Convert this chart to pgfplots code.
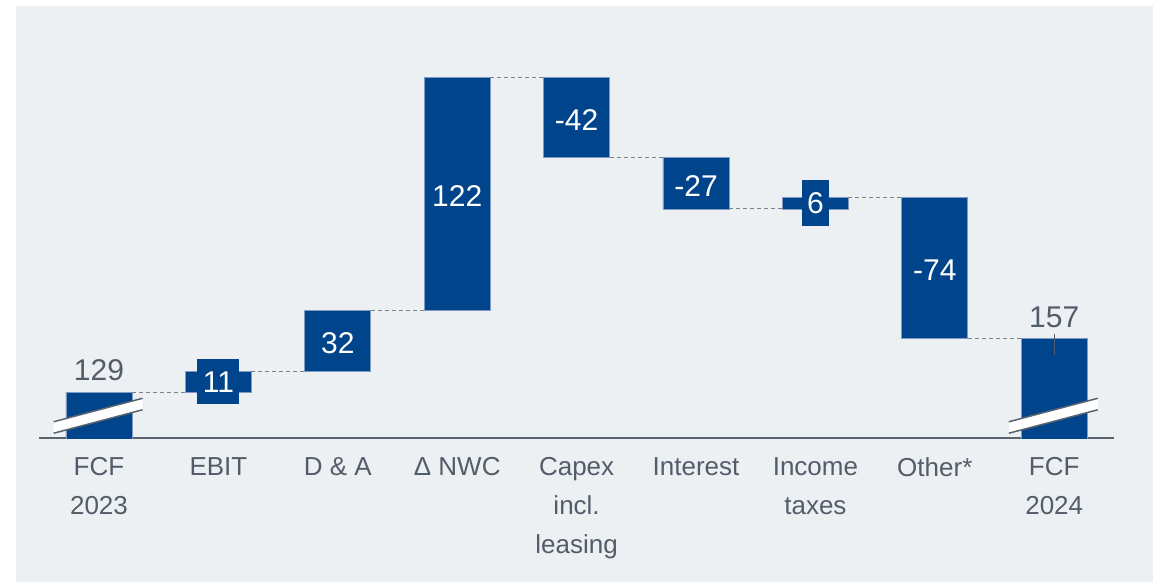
\documentclass[border=0pt]{standalone}
\usepackage{fontspec}
\setmainfont{Liberation Sans}
\usepackage{pgfplots}
\usepackage{pgfplotstable}
\pgfplotsset{compat=1.18}
\definecolor{bg}{RGB}{236,240,243}
\definecolor{barblue}{RGB}{0,69,139}
\definecolor{baredge}{RGB}{125,155,195}
\definecolor{txtgrey}{RGB}{83,93,105}
\definecolor{axisgrey}{RGB}{90,100,112}
\definecolor{dashgrey}{RGB}{125,130,137}

\pgfplotstableread{
x base delta
0 0 129
1 129 11
2 140 32
3 172 122
4 252 42
5 225 27
6 225 6
7 157 74
8 0 157
}\bars

\pgfplotstableread{
x mid lab
1 134.5 11
2 154.7 32
3 231.7 122
4 271.7 -42
5 237.2 -27
6 228 6
7 192.7 -74
}\labs

\pgfplotstableread{
x top lab
0 129 129
8 157 157
}\totals

\pgfplotstableread{
x y
0.2765 129
0.7235 129
nan nan
1.2765 140
1.7235 140
nan nan
2.2765 172
2.7235 172
nan nan
3.2765 294
3.7235 294
nan nan
4.2765 252
4.7235 252
nan nan
5.2765 225
5.7235 225
nan nan
6.2765 231
6.7235 231
nan nan
7.2765 157
7.7235 157
}\conn

\pgfplotsset{
  common/.style={
    at={(39.3pt,144pt)}, anchor=south west,
    x=119.4pt, y=1.909pt,
    xmin=-0.5, xmax=8.5, ymin=105, ymax=320,
  }
}

\begin{document}
\begin{tikzpicture}
\useasboundingbox (0,0) rectangle (1153pt,582pt);
\fill[bg] (16pt,0) rectangle (1153pt,576pt);

\begin{axis}[
  common,
  axis x line=bottom, axis y line=none,
  axis line style={draw=axisgrey, line width=2pt, -},
  ybar stacked, bar width=0.553,
  xtick={0,...,8},
  xticklabels={FCF\\2023, EBIT, D \& A, Δ NWC, Capex\\incl.\\leasing, Interest, Income\\taxes, Other*, FCF\\2024},
  xtick style={draw=none},
  major tick length=0pt,
  xticklabel style={font=\fontsize{26}{38.8}\selectfont, text=txtgrey, align=center, inner sep=0pt, anchor=north, yshift=-19.5pt},
  ytick=\empty,
]
\addplot[fill=none, draw=none] table[x=x, y=base] {\bars};
\addplot[fill=barblue, draw=baredge, line width=0.8pt] table[x=x, y=delta] {\bars};
\end{axis}

\begin{axis}[
  common,
  hide axis,
]
% connectors
\addplot[dashgrey, line width=1pt, dash pattern=on 4pt off 3pt, mark=none, unbounded coords=jump] table[x=x, y=y] {\conn};
% break marks
\addplot[fill=white, draw=none, mark=none] coordinates {(-0.38,107.5) (0.365,119.8) (0.365,125.8) (-0.38,113.5)} -- cycle;
\addplot[axisgrey, line width=1.5pt, mark=none] coordinates {(-0.38,107.5) (0.365,119.8)};
\addplot[axisgrey, line width=1.5pt, mark=none] coordinates {(-0.38,113.5) (0.365,125.8)};
\addplot[fill=white, draw=none, mark=none] coordinates {(7.62,107.5) (8.365,119.8) (8.365,125.8) (7.62,113.5)} -- cycle;
\addplot[axisgrey, line width=1.5pt, mark=none] coordinates {(7.62,107.5) (8.365,119.8)};
\addplot[axisgrey, line width=1.5pt, mark=none] coordinates {(7.62,113.5) (8.365,125.8)};
% leader line for 157
\addplot[txtgrey, line width=1pt, mark=none] coordinates {(8,159.6) (8,148.6)};
% delta labels
\addplot[draw=none, mark=none, nodes near coords, point meta=explicit symbolic,
  every node near coord/.append style={anchor=center, fill=barblue, text=white, font=\fontsize{30}{36}\selectfont, inner xsep=5.5pt, inner ysep=0pt, minimum height=45.5pt}]
  table[x=x, y=mid, meta=lab] {\labs};
% totals labels
\addplot[draw=none, mark=none, nodes near coords, point meta=explicit symbolic,
  every node near coord/.append style={anchor=base, text=txtgrey, font=\fontsize{30}{36}\selectfont, inner sep=0pt, yshift=11.5pt}]
  table[x=x, y=top, meta=lab] {\totals};
\end{axis}
\end{tikzpicture}
\end{document}
